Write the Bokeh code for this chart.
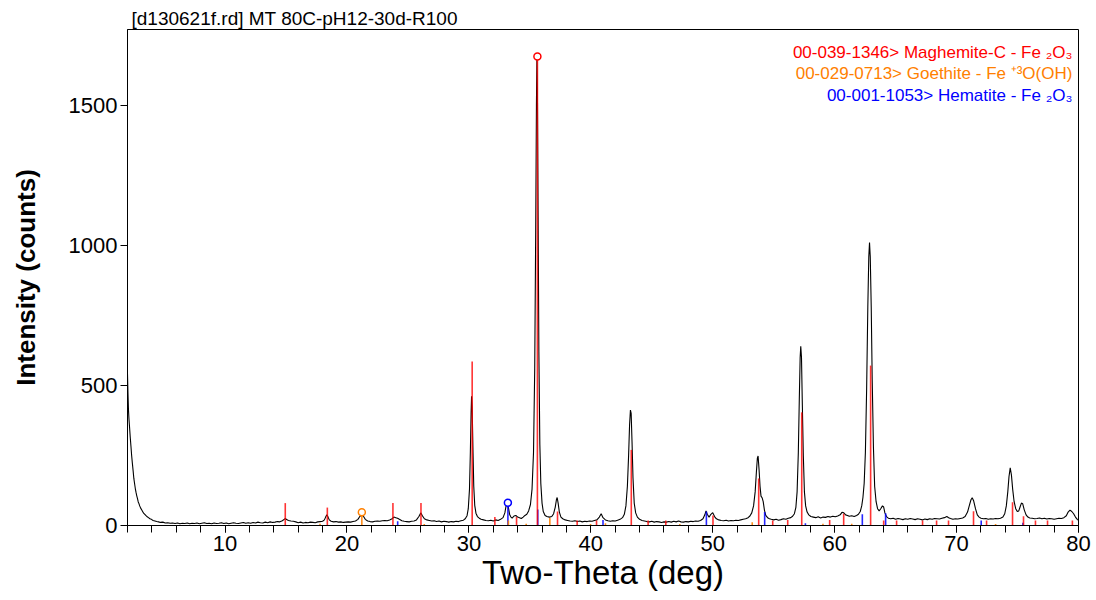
from bokeh.plotting import figure
from bokeh.models import Range1d, SingleIntervalTicker, FixedTicker, Label
from bokeh.embed import file_html
from bokeh.resources import INLINE

# ---- measured scan (2-theta in deg, intensity in counts) ----
two_theta = [
    2.00, 2.04, 2.08, 2.12, 2.17, 2.22, 2.28, 2.34, 2.40, 2.46,
    2.52, 2.58, 2.64, 2.70, 2.76, 2.82, 2.88, 2.94, 3.00, 3.08,
    3.16, 3.24, 3.32, 3.42, 3.52, 3.62, 3.72, 3.84, 3.96, 4.10,
    4.25, 4.40, 4.55, 4.70, 4.90, 5.10, 5.30, 5.50, 5.70, 5.90,
    6.10, 6.30, 6.50, 6.70, 6.90, 7.10, 7.30, 7.50, 7.70, 7.90,
    8.10, 8.30, 8.50, 8.70, 8.90, 9.10, 9.30, 9.50, 9.70, 9.90,
    10.10, 10.30, 10.50, 10.70, 10.90, 11.10, 11.30, 11.50, 11.70, 11.90,
    12.10, 12.30, 12.50, 12.70, 12.90, 13.10, 13.30, 13.50, 13.70, 13.90,
    14.10, 14.30, 14.50, 14.70, 14.85, 14.95, 15.05, 15.20, 15.40, 15.60,
    15.80, 16.00, 16.20, 16.40, 16.60, 16.80, 17.00, 17.20, 17.40, 17.60,
    17.80, 18.00, 18.15, 18.25, 18.35, 18.45, 18.55, 18.70, 18.90, 19.10,
    19.30, 19.50, 19.70, 19.90, 20.10, 20.30, 20.50, 20.70, 20.90, 21.05,
    21.20, 21.35, 21.50, 21.70, 21.90, 22.10, 22.30, 22.50, 22.70, 22.90,
    23.10, 23.30, 23.50, 23.70, 23.85, 24.00, 24.15, 24.30, 24.50, 24.70,
    24.90, 25.10, 25.30, 25.50, 25.70, 25.90, 26.05, 26.20, 26.35, 26.55,
    26.75, 26.95, 27.15, 27.35, 27.55, 27.75, 27.95, 28.15, 28.35, 28.55,
    28.75, 28.95, 29.15, 29.35, 29.55, 29.70, 29.85, 29.95, 30.05, 30.12,
    30.18, 30.22, 30.27, 30.33, 30.40, 30.48, 30.58, 30.70, 30.85, 31.00,
    31.20, 31.40, 31.60, 31.80, 32.00, 32.20, 32.40, 32.60, 32.80, 32.95,
    33.05, 33.15, 33.25, 33.35, 33.45, 33.55, 33.70, 33.85, 34.00, 34.15,
    34.30, 34.45, 34.60, 34.75, 34.90, 35.05, 35.18, 35.30, 35.40, 35.48,
    35.54, 35.58, 35.62, 35.68, 35.74, 35.82, 35.90, 36.00, 36.10, 36.25,
    36.40, 36.60, 36.80, 36.95, 37.08, 37.18, 37.24, 37.32, 37.42, 37.55,
    37.70, 37.90, 38.10, 38.30, 38.50, 38.70, 38.90, 39.10, 39.30, 39.50,
    39.70, 39.90, 40.10, 40.30, 40.50, 40.70, 40.85, 41.00, 41.20, 41.40,
    41.60, 41.80, 42.00, 42.20, 42.40, 42.60, 42.75, 42.88, 43.00, 43.10,
    43.18, 43.25, 43.31, 43.38, 43.46, 43.56, 43.68, 43.82, 44.00, 44.20,
    44.40, 44.60, 44.80, 45.00, 45.20, 45.40, 45.60, 45.80, 46.00, 46.20,
    46.40, 46.60, 46.80, 47.00, 47.20, 47.40, 47.60, 47.80, 48.00, 48.20,
    48.40, 48.60, 48.80, 49.00, 49.20, 49.35, 49.45, 49.55, 49.70, 49.85,
    50.00, 50.15, 50.30, 50.50, 50.70, 50.90, 51.10, 51.30, 51.50, 51.70,
    51.90, 52.10, 52.30, 52.50, 52.70, 52.90, 53.05, 53.20, 53.35, 53.48,
    53.58, 53.66, 53.72, 53.80, 53.88, 53.96, 54.06, 54.14, 54.24, 54.35,
    54.50, 54.65, 54.80, 55.00, 55.20, 55.40, 55.60, 55.80, 56.00, 56.20,
    56.40, 56.55, 56.70, 56.82, 56.92, 57.02, 57.10, 57.17, 57.22, 57.28,
    57.35, 57.43, 57.52, 57.62, 57.74, 57.88, 58.05, 58.25, 58.45, 58.65,
    58.85, 59.05, 59.25, 59.45, 59.65, 59.85, 60.05, 60.25, 60.45, 60.60,
    60.75, 60.90, 61.05, 61.20, 61.40, 61.60, 61.80, 61.95, 62.10, 62.22,
    62.32, 62.42, 62.52, 62.62, 62.72, 62.80, 62.86, 62.92, 63.00, 63.08,
    63.18, 63.28, 63.40, 63.52, 63.65, 63.78, 63.92, 64.02, 64.12, 64.25,
    64.40, 64.60, 64.80, 65.00, 65.20, 65.40, 65.60, 65.80, 66.00, 66.20,
    66.40, 66.60, 66.80, 67.00, 67.20, 67.40, 67.60, 67.80, 68.00, 68.20,
    68.40, 68.60, 68.80, 69.00, 69.20, 69.35, 69.50, 69.70, 69.90, 70.10,
    70.30, 70.50, 70.70, 70.90, 71.05, 71.18, 71.28, 71.40, 71.55, 71.70,
    71.85, 72.00, 72.20, 72.40, 72.60, 72.80, 73.00, 73.20, 73.40, 73.60,
    73.80, 73.95, 74.08, 74.20, 74.30, 74.40, 74.50, 74.60, 74.72, 74.85,
    74.98, 75.10, 75.22, 75.32, 75.42, 75.55, 75.70, 75.85, 76.00, 76.20,
    76.40, 76.60, 76.80, 77.00, 77.20, 77.40, 77.60, 77.80, 78.00, 78.20,
    78.40, 78.60, 78.80, 79.00, 79.15, 79.30, 79.45, 79.60, 79.75, 79.90,
    80.00,
]
intensity = [
    540, 470, 412, 380, 350, 318, 285, 250, 222, 196,
    168, 150, 132, 118, 106, 96, 84, 78, 70, 62,
    56, 50, 44, 40, 35, 31, 28, 24, 22, 18,
    16, 14, 13, 11, 12, 9, 10, 8, 9, 7,
    9, 6, 8, 7, 9, 6, 8, 7, 9, 6,
    8, 10, 7, 8, 6, 9, 7, 8, 10, 7,
    9, 6, 8, 10, 8, 7, 9, 11, 8, 10,
    8, 11, 9, 12, 10, 9, 12, 10, 13, 11,
    12, 14, 13, 17, 22, 25, 21, 18, 16, 15,
    13, 10, 12, 9, 11, 10, 12, 11, 10, 13,
    14, 15, 20, 30, 38, 30, 20, 15, 13, 14,
    12, 13, 11, 12, 13, 12, 14, 16, 22, 32,
    40, 33, 22, 16, 14, 13, 15, 16, 15, 17,
    18, 17, 20, 24, 30, 28, 26, 22, 17, 15,
    14, 13, 15, 16, 20, 32, 45, 34, 24, 20,
    18, 16, 17, 14, 16, 13, 15, 14, 12, 14,
    13, 15, 14, 17, 19, 24, 35, 60, 130, 260,
    400, 461, 420, 280, 140, 72, 44, 32, 26, 22,
    20, 18, 17, 19, 16, 20, 18, 22, 28, 45,
    70, 80, 62, 38, 30, 26, 34, 36, 30, 28,
    25, 30, 36, 40, 52, 75, 130, 260, 560, 1050,
    1500, 1678, 1560, 1100, 620, 290, 150, 80, 50, 36,
    32, 30, 32, 42, 65, 92, 100, 80, 48, 30,
    24, 20, 18, 16, 15, 17, 14, 16, 13, 15,
    14, 16, 15, 18, 20, 30, 42, 28, 20, 17,
    15, 17, 16, 19, 22, 28, 40, 70, 140, 250,
    360, 412, 400, 300, 170, 80, 45, 30, 22, 18,
    16, 14, 13, 15, 12, 14, 13, 11, 13, 12,
    14, 12, 15, 13, 16, 13, 12, 14, 13, 15,
    14, 16, 15, 18, 24, 38, 52, 40, 30, 40,
    46, 32, 24, 20, 18, 17, 19, 16, 18, 17,
    19, 18, 20, 22, 24, 28, 34, 45, 70, 120,
    190, 240, 248, 200, 140, 105, 98, 85, 55, 36,
    28, 24, 22, 20, 22, 19, 21, 24, 22, 26,
    28, 33, 42, 65, 120, 260, 450, 600, 640, 600,
    430, 250, 120, 70, 48, 38, 32, 30, 28, 31,
    27, 30, 29, 32, 30, 33, 31, 34, 38, 47,
    45, 38, 36, 33, 35, 32, 36, 40, 50, 70,
    100, 150, 260, 480, 780, 960, 1010, 960, 780, 520,
    280, 140, 85, 60, 52, 60, 70, 66, 45, 32,
    26, 24, 26, 22, 25, 23, 21, 24, 22, 25,
    23, 21, 24, 22, 20, 23, 21, 24, 22, 25,
    24, 23, 26, 28, 32, 28, 25, 22, 24, 23,
    25, 27, 32, 48, 72, 92, 99, 88, 60, 38,
    30, 26, 24, 25, 22, 24, 23, 25, 24, 26,
    30, 42, 70, 120, 175, 206, 180, 130, 85, 60,
    50, 52, 68, 80, 78, 56, 38, 30, 27, 26,
    24, 25, 27, 24, 26, 23, 25, 24, 22, 24,
    26, 25, 28, 35, 48, 55, 50, 42, 30, 22,
    18,
]

# ---- reference patterns (stick positions / heights) ----
maghemite_pos = [14.94, 18.39, 23.77, 26.07, 30.27, 32.13, 33.91, 35.62, 37.27, 38.88,
                 40.47, 43.32, 44.70, 46.15, 50.02, 53.77, 54.92, 56.15, 57.30, 59.59,
                 60.74, 62.95, 64.02, 65.08, 67.21, 68.36, 69.34, 71.39, 72.46, 74.59,
                 75.49, 76.47, 77.46, 79.50]
maghemite_int = [80, 64, 80, 80, 586, 30, 30, 1675, 50, 18,
                 18, 270, 18, 18, 36, 168, 18, 20, 404, 20,
                 42, 571, 18, 18, 18, 18, 18, 51, 18, 83,
                 33, 18, 18, 18]
goethite_pos = [17.79, 21.22, 26.34, 33.24, 34.70, 36.64, 39.98, 41.20, 47.30, 53.24,
                59.04, 61.40, 73.20]
goethite_int = [6, 47, 5, 18, 6, 27, 5, 8, 5, 12, 6, 6, 5]
hematite_pos = [24.16, 33.20, 35.65, 41.00, 49.48, 54.26, 57.60, 62.27, 64.18, 72.02, 75.44]
hematite_int = [15, 81, 57, 20, 50, 48, 8, 40, 44, 18, 10]

legend_texts = ["00-039-1346> Maghemite-C - Fe \u2082O\u2083",
                "00-029-0713> Goethite - Fe \u207a\u00b3O(OH)",
                "00-001-1053> Hematite - Fe \u2082O\u2083"]
RED, ORANGE, BLUE = "#ff0000", "#ff8000", "#0000ff"
FONT = "Liberation Sans"

p = figure(width=1096, height=600, output_backend="svg", toolbar_location=None,
           x_range=Range1d(2, 80), y_range=Range1d(0, 1771),
           min_border_left=127, min_border_right=18, min_border_top=29, min_border_bottom=75,
           title="[d130621f.rd] MT 80C-pH12-30d-R100")

p.title.text_font = FONT
p.title.text_font_size = "19px"
p.title.text_font_style = "normal"
p.title.text_color = "black"
p.title.offset = 4
p.title.standoff = 2

p.xgrid.visible = False
p.ygrid.visible = False
p.outline_line_color = "black"
p.outline_line_width = 1
p.background_fill_color = "white"
p.border_fill_color = "white"

for ax in (p.xaxis, p.yaxis):
    ax.axis_label_text_font = FONT
    ax.axis_label_text_color = "black"
    ax.major_label_text_font = FONT
    ax.major_label_text_font_size = "22px"
    ax.major_label_text_color = "black"
    ax.major_label_standoff = 3
    ax.major_tick_in = 0
    ax.major_tick_out = 7
    ax.axis_line_color = "black"
    ax.major_tick_line_color = "black"

# x axis
p.xaxis.ticker = SingleIntervalTicker(interval=10, num_minor_ticks=5)
p.xaxis.axis_label = "Two-Theta (deg)"
p.xaxis.axis_label_text_font_size = "33px"
p.xaxis.axis_label_text_font_style = "normal"
p.xaxis.axis_label_standoff = 0
p.xaxis.minor_tick_in = 0
p.xaxis.minor_tick_out = 7
p.xaxis.minor_tick_line_color = "black"

# y axis
p.yaxis.ticker = FixedTicker(ticks=[0, 500, 1000, 1500])
p.yaxis.axis_label = "Intensity (counts)"
p.yaxis.axis_label_text_font_size = "26px"
p.yaxis.axis_label_text_font_style = "bold"
p.yaxis.axis_label_standoff = 25
p.yaxis.minor_tick_line_color = None

# scan
p.line(two_theta, intensity, line_color="black", line_width=1.1)

# sticks (drawn blue, orange, then red on top)
p.segment(x0=hematite_pos, y0=[0] * len(hematite_pos), x1=hematite_pos, y1=hematite_int,
          line_color=BLUE, line_width=1.6, line_alpha=0.85)
p.segment(x0=goethite_pos, y0=[0] * len(goethite_pos), x1=goethite_pos, y1=goethite_int,
          line_color=ORANGE, line_width=1.6, line_alpha=0.9)
p.segment(x0=maghemite_pos, y0=[0] * len(maghemite_pos), x1=maghemite_pos, y1=maghemite_int,
          line_color=RED, line_width=1.6, line_alpha=0.8)

# markers on the strongest line of each pattern
def top_marker(pos, inten, color):
    i = inten.index(max(inten))
    p.scatter([pos[i]], [inten[i]], marker="circle", size=7, fill_color="white",
              line_color=color, line_width=1.5)

top_marker(hematite_pos, hematite_int, BLUE)
top_marker(goethite_pos, goethite_int, ORANGE)
top_marker(maghemite_pos, maghemite_int, RED)

# pattern legend (coloured text, right aligned)
for txt, col, yy in zip(legend_texts, [RED, ORANGE, BLUE], [1690, 1613, 1536]):
    p.add_layout(Label(x=79.5, y=yy, text=txt, text_color=col, text_align="right",
                       text_baseline="alphabetic", text_font=FONT, text_font_size="17px"))

open("out.html", "w").write(file_html(p, INLINE))
